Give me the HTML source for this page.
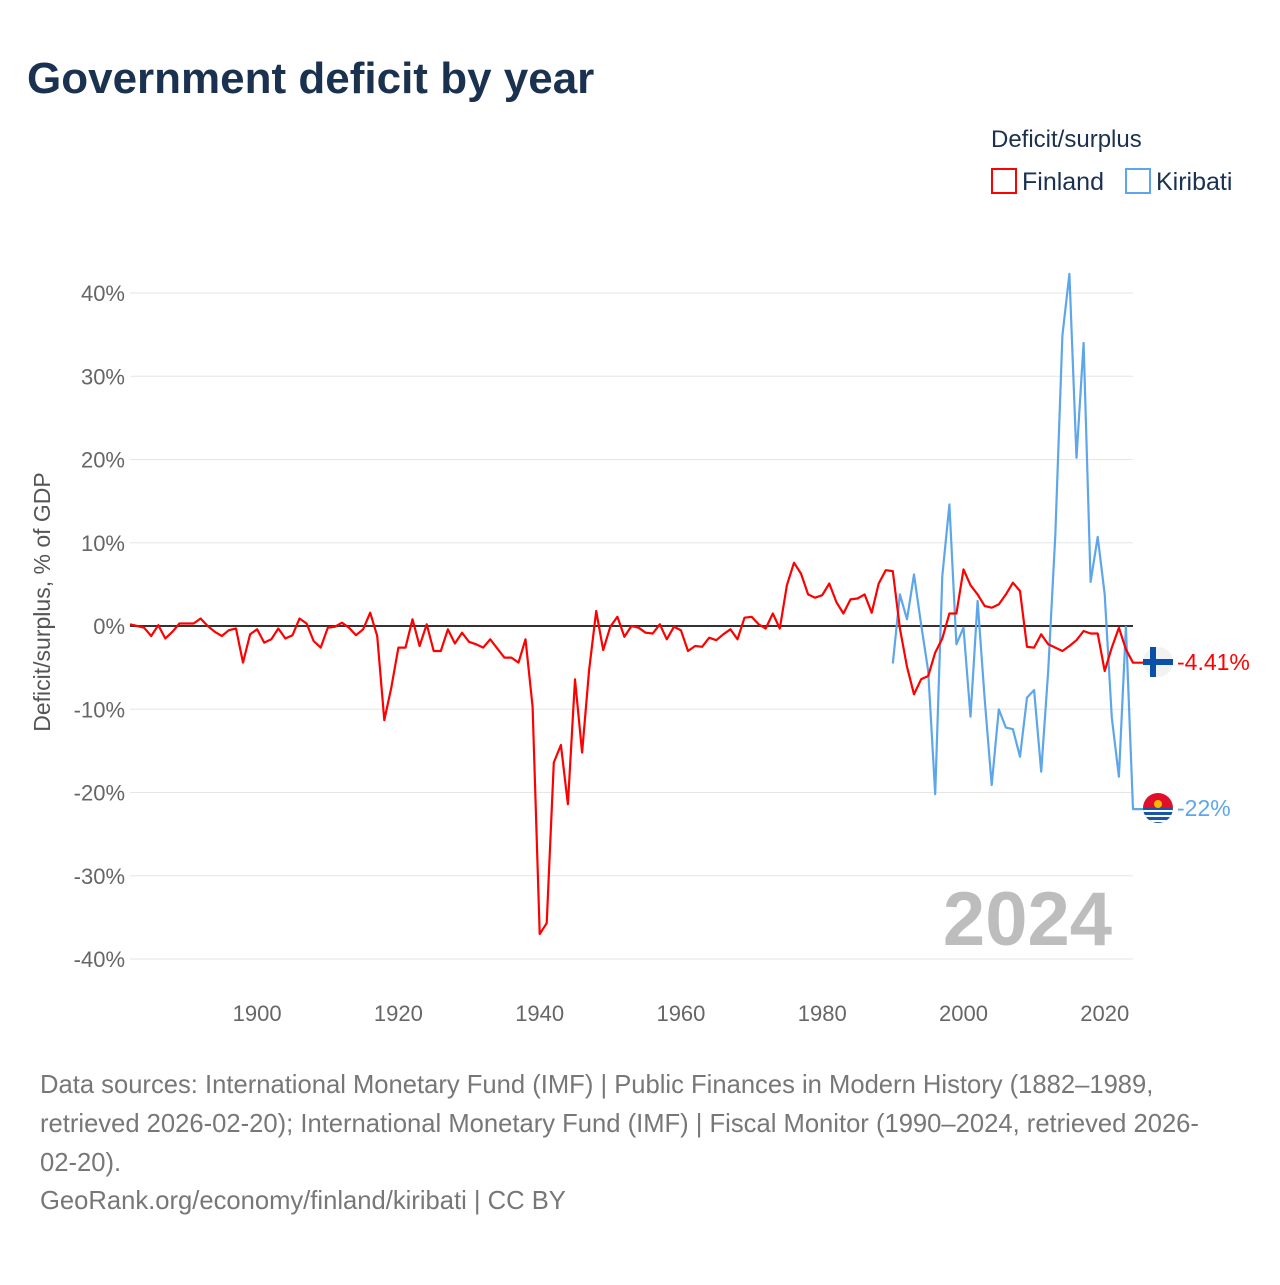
<!DOCTYPE html>
<html><head><meta charset="utf-8"><style>
body{margin:0;background:#fff;}
svg text{font-family:"Liberation Sans",sans-serif;}
</style></head><body>
<svg id="chart" width="1280" height="1280" viewBox="0 0 1280 1280" xmlns="http://www.w3.org/2000/svg">
<rect width="1280" height="1280" fill="#fff"/>
<text x="27" y="93" font-size="44" font-weight="bold" fill="#1a3150">Government deficit by year</text>
<text x="991" y="147" font-size="24" fill="#1a3150">Deficit/surplus</text>
<g>
<rect x="992" y="169" width="24" height="24" fill="none" stroke="#ff0000" stroke-width="2"/>
<text x="1022" y="190" font-size="25" fill="#1a3150">Finland</text></g>
<g>
<rect x="1126" y="169" width="24" height="24" fill="none" stroke="#5ea6ea" stroke-width="2"/>
<text x="1156" y="190" font-size="25" fill="#1a3150">Kiribati</text></g>
<text transform="translate(50,602) rotate(-90)" text-anchor="middle" font-size="23" fill="#555">Deficit/surplus, % of GDP</text>
<g id="grid"></g><g id="yticks"></g><g id="xticks"></g>
<text x="1112" y="945" text-anchor="end" font-size="76" font-weight="bold" fill="#bdbdbd">2024</text>
<g id="series"></g>
<g>
<circle cx="1158" cy="662" r="15" fill="#f2f2f2"/>
<rect x="1143" y="659" width="30" height="6" fill="#0a4fa8"/>
<rect x="1150" y="647" width="6" height="30" fill="#0a4fa8"/></g>
<text x="1177" y="670" font-size="23" fill="#ff0000">-4.41%</text>
<g>
<clipPath id="kc"><circle cx="1158" cy="808" r="15"/></clipPath>
<g clip-path="url(#kc)"><rect x="1143" y="793" width="30" height="15" fill="#e0102a"/>
<rect x="1143" y="808" width="30" height="15" fill="#1a55a8"/>
<rect x="1143" y="810" width="30" height="2" fill="#fff"/><rect x="1143" y="815" width="30" height="2" fill="#fff"/><rect x="1143" y="820" width="30" height="2" fill="#fff"/>
<circle cx="1158" cy="804" r="4" fill="#f5b800"/></g></g>
<text x="1177" y="816" font-size="23" fill="#5ea6ea">-22%</text>
<g font-size="25.6" fill="#777">
<text x="40" y="1093">Data sources: International Monetary Fund (IMF) | Public Finances in Modern History (1882–1989,</text>
<text x="40" y="1132">retrieved 2026-02-20); International Monetary Fund (IMF) | Fiscal Monitor (1990–2024, retrieved 2026-</text>
<text x="40" y="1171">02-20).</text>
<text x="40" y="1209">GeoRank.org/economy/finland/kiribati | CC BY</text></g>
</svg>
<script>
const yTicks=[40,30,20,10,0,-10,-20,-30,-40];
const xTicks=[1900,1920,1940,1960,1980,2000,2020];
const finlandStart=1882;
const finlandValues=[0.2,0,-0.2,-1.2,0.1,-1.5,-0.7,0.3,0.3,0.3,0.9,0,-0.7,-1.2,-0.5,-0.3,-4.4,-1.0,-0.4,-2.0,-1.6,-0.3,-1.5,-1.1,0.9,0.3,-1.8,-2.6,-0.2,-0.1,0.4,-0.2,-1.1,-0.4,1.6,-1.2,-11.3,-7.4,-2.6,-2.6,0.8,-2.4,0.2,-3.0,-3.0,-0.4,-2.1,-0.8,-1.9,-2.2,-2.6,-1.6,-2.7,-3.8,-3.8,-4.4,-1.6,-9.7,-37.0,-35.7,-16.4,-14.3,-21.4,-6.4,-15.2,-5.3,1.8,-2.9,-0.1,1.1,-1.3,0,-0.2,-0.8,-0.9,0.2,-1.6,-0.1,-0.5,-3.0,-2.4,-2.5,-1.4,-1.7,-1.0,-0.4,-1.6,1.0,1.1,0.2,-0.3,1.5,-0.3,4.9,7.6,6.3,3.8,3.4,3.7,5.1,2.9,1.5,3.2,3.3,3.8,1.6,5.1,6.7,6.6,-0.3,-4.9,-8.2,-6.4,-6.0,-3.2,-1.5,1.5,1.5,6.8,4.9,3.8,2.4,2.2,2.6,3.8,5.2,4.2,-2.5,-2.6,-1.0,-2.2,-2.6,-3.0,-2.4,-1.7,-0.6,-0.9,-0.9,-5.4,-2.6,-0.2,-2.8,-4.41];
const kiribatiStart=1990;
const kiribatiValues=[-4.5,3.8,0.8,6.2,0.2,-5.4,-20.2,6.0,14.6,-2.2,-0.2,-10.9,3.0,-8.8,-19.1,-10.0,-12.2,-12.4,-15.7,-8.6,-7.7,-17.5,-5.4,10.9,34.9,42.3,20.2,34.0,5.3,10.7,3.8,-11.0,-18.1,-0.1,-22.0];
const NS='http://www.w3.org/2000/svg';
const X=y=>130+(y-1882)*(1003/142);
const Y=v=>626-v*8.325;
function mk(tag,attrs,parent,txt){const e=document.createElementNS(NS,tag);for(const k in attrs)e.setAttribute(k,attrs[k]);if(txt!==undefined)e.textContent=txt;parent.appendChild(e);return e;}
const grid=document.getElementById('grid'),yt=document.getElementById('yticks'),xt=document.getElementById('xticks'),ser=document.getElementById('series');
yTicks.forEach(t=>{
 const l=mk('line',{x1:130,x2:1133,y1:Y(t),y2:Y(t),stroke:t===0?'#333':'#e6e6e6','stroke-width':t===0?2:1},grid);
 
 
 const tx=mk('text',{x:125,y:Y(t)+8,'text-anchor':'end','font-size':22,fill:'#666'},yt,t+'%');
 
 
});
xTicks.forEach(t=>{
 const tx=mk('text',{x:X(t),y:1021,'text-anchor':'middle','font-size':22,fill:'#666'},xt,String(t));
 
 
});
function line(start,vals,color,name){
 let d=vals.map((v,i)=>(i?'L':'M')+X(start+i).toFixed(1)+' '+Y(v).toFixed(1)).join(' ');
 d+=' L1146 '+Y(vals[vals.length-1]).toFixed(1);
 const p=mk('path',{d:d,fill:'none',stroke:color,'stroke-width':2.2,'stroke-linejoin':'round'},ser);
 
 
}
line(kiribatiStart,kiribatiValues,'#5ea6ea','kiribati-line');
line(finlandStart,finlandValues,'#ff0000','finland-line');
</script>
</body></html>
